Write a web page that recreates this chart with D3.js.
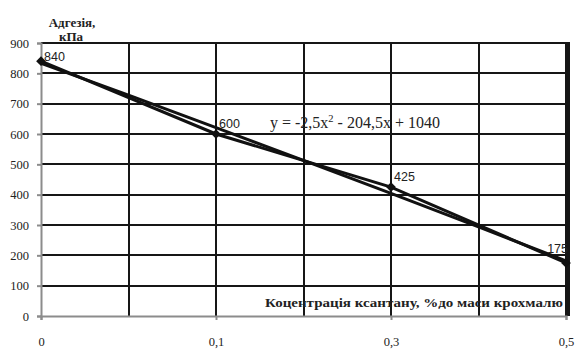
<!DOCTYPE html>
<html>
<head>
<meta charset="utf-8">
<script src="https://cdn.jsdelivr.net/npm/d3@7"></script>
<style>
  body { margin: 0; background: #fff; }
  svg { display: block; }
</style>
</head>
<body>
<svg id="chart" width="576" height="349"></svg>
<script>
// Adhesion vs xanthan concentration, with polynomial trend line.
const CATEGORIES = ['0', '0,1', '0,3', '0,5'];
const ADHESION = [840, 600, 425, 175];
// trend curve at half-category steps
const TREND = [833, 728, 621, 513, 404, 294, 182];
const Y_TICKS = [0, 100, 200, 300, 400, 500, 600, 700, 800, 900];
const EQUATION = 'y = -2,5x';
const EQUATION_TAIL = ' - 204,5x + 1040';

const SERIF = '"Liberation Serif", "Times New Roman", serif';
const SANS = '"Liberation Sans", Arial, sans-serif';

const svg = d3.select('#chart');
const M = { left: 41, right: 566, top: 43, bottom: 316 };

const x = d3.scaleLinear().domain([0, CATEGORIES.length - 1]).range([M.left, M.right]);
const y = d3.scaleLinear().domain([0, 900]).range([M.bottom, M.top]);

const grid = svg.append('g');

// horizontal gridlines
grid.selectAll('line.h')
  .data(Y_TICKS.filter((v) => v > 0))
  .enter()
  .append('line')
  .attr('x1', M.left)
  .attr('x2', M.right)
  .attr('y1', (d) => Math.round(y(d)))
  .attr('y2', (d) => Math.round(y(d)))
  .attr('stroke', '#161616')
  .attr('stroke-width', 2);

// vertical gridlines every half category
grid.selectAll('line.v')
  .data(d3.range(0.5, CATEGORIES.length - 0.5, 0.5))
  .enter()
  .append('line')
  .attr('x1', (d) => Math.round(x(d)))
  .attr('x2', (d) => Math.round(x(d)))
  .attr('y1', M.top)
  .attr('y2', M.bottom)
  .attr('stroke', '#161616')
  .attr('stroke-width', 2);

// right border, a bit heavier
grid.append('line')
  .attr('x1', M.right + 2).attr('x2', M.right + 2)
  .attr('y1', M.top - 1).attr('y2', M.bottom)
  .attr('stroke', '#161616')
  .attr('stroke-width', 4);

// axes
const yAxis = svg.append('g')
  .attr('transform', `translate(${M.left},0)`)
  .call(d3.axisLeft(y).tickValues(Y_TICKS).tickSize(4).tickPadding(8));
const xAxis = svg.append('g')
  .attr('transform', `translate(0,${M.bottom})`)
  .call(d3.axisBottom(x).tickValues(d3.range(CATEGORIES.length))
    .tickFormat((i) => CATEGORIES[i]).tickSize(4).tickPadding(17));

[yAxis, xAxis].forEach((g) => {
  g.attr('font-family', null);
  g.select('.domain').attr('stroke', '#8c8c8c').attr('stroke-width', 2);
  g.selectAll('.tick line').attr('stroke', '#8c8c8c').attr('stroke-width', 2);
  g.selectAll('.tick text')
    .attr('fill', '#222')
    .style('font-family', SERIF)
    .style('font-size', '12.5px');
});

// trend line
svg.append('path')
  .datum(TREND)
  .attr('fill', 'none')
  .attr('stroke', '#111')
  .attr('stroke-width', 3)
  .attr('d', d3.line().x((d, i) => x(i / 2)).y((d) => y(d)).curve(d3.curveNatural));

// data line
svg.append('path')
  .datum(ADHESION)
  .attr('fill', 'none')
  .attr('stroke', '#111')
  .attr('stroke-width', 3)
  .attr('d', d3.line().x((d, i) => x(i)).y((d) => y(d)));

svg.selectAll('path.marker')
  .data(ADHESION)
  .enter()
  .append('path')
  .attr('class', 'marker')
  .attr('transform', (d, i) => `translate(${x(i)},${y(d)})`)
  .attr('d', d3.symbol(d3.symbolDiamond2, 60))
  .attr('fill', '#111');

// data labels
svg.selectAll('text.lbl')
  .data(ADHESION)
  .enter()
  .append('text')
  .attr('class', 'lbl')
  .attr('x', (d, i) => (i === ADHESION.length - 1 ? x(i) + 2 : x(i) + 3))
  .attr('y', (d, i) => y(d) - (i === 0 ? 0 : i === 3 ? 10 : 6))
  .attr('text-anchor', (d, i) => (i === ADHESION.length - 1 ? 'end' : 'start'))
  .attr('fill', '#222')
  .style('font-family', SANS)
  .style('font-size', '12.5px')
  .text((d) => d);

// trend equation
const eq = svg.append('text')
  .attr('x', 270)
  .attr('y', 128)
  .attr('fill', '#222')
  .style('font-family', SERIF)
  .style('font-size', '16px');
eq.append('tspan').text(EQUATION);
eq.append('tspan').attr('dy', -6).style('font-size', '10.5px').text('2');
eq.append('tspan').attr('dy', 6).text(EQUATION_TAIL);

// axis titles
const titleStyle = (t) => t
  .attr('fill', '#222')
  .style('font-family', SERIF)
  .style('font-weight', 'bold')
  .style('font-size', '13px');

titleStyle(svg.append('text').attr('x', 72).attr('y', 27).attr('text-anchor', 'middle').text('Адгезія,'));
titleStyle(svg.append('text').attr('x', 71).attr('y', 41).attr('text-anchor', 'middle').text('кПа'));
titleStyle(svg.append('text').attr('x', 265).attr('y', 307)
  .attr('textLength', 298)
  .attr('lengthAdjust', 'spacingAndGlyphs')
  .style('font-size', '14px')
  .text('Коцентрація ксантану, %до маси крохмалю'));
</script>
</body>
</html>
